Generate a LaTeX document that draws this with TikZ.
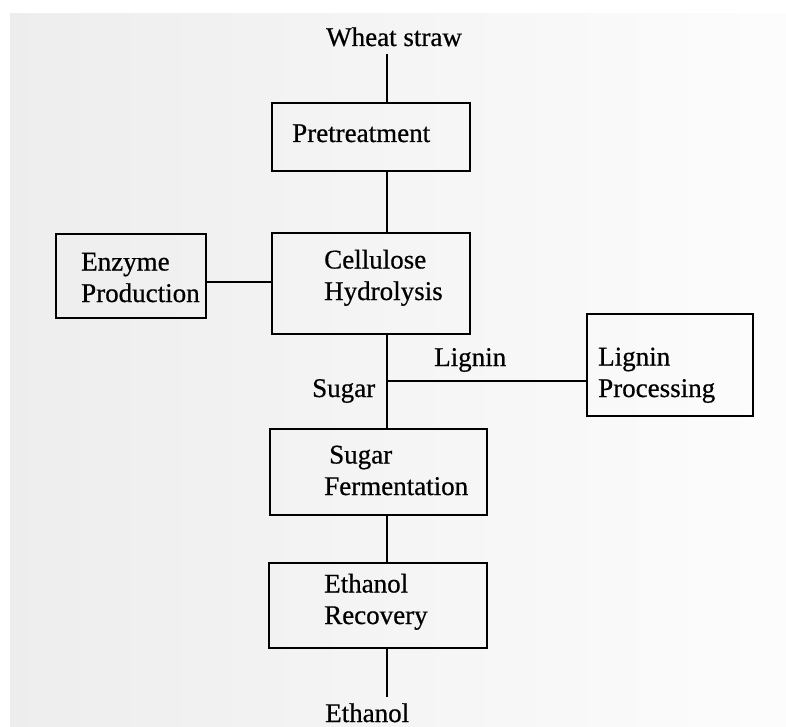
\documentclass[tikz,border=0pt]{standalone}
\usepackage{fontspec}
\setmainfont{Liberation Serif}[BoldFont=Liberation Serif, BoldFeatures={FakeBold=0.6}]
\begin{document}
\begin{tikzpicture}[x=1pt, y=-1pt,
  box/.style={draw, line width=1.5pt, rectangle, outer sep=0pt, inner sep=0pt},
  txt/.style={font=\fontsize{27}{31.5}\selectfont\bfseries, inner sep=0pt, anchor=base west, align=left},
  link/.style={line width=1.5pt}]
  % page and scanned sheet
  \useasboundingbox (0,0) rectangle (786,727);
  \fill[white] (0,0) rectangle (786,727);
  \shade[left color=black!7, right color=black!1, draw=none] (10,14) rectangle (786,727);

  % process boxes
  \node[box, minimum width=198pt, minimum height=68pt]  (pre)  at (371,137)   {};
  \node[box, minimum width=198pt, minimum height=101pt] (cell) at (371,283.5) {};
  \node[box, minimum width=150pt, minimum height=84pt]  (enz)  at (131,276)   {};
  \node[box, minimum width=166pt, minimum height=102pt] (lig)  at (670,365)   {};
  \node[box, minimum width=217pt, minimum height=86pt]  (ferm) at (378.5,472) {};
  \node[box, minimum width=218pt, minimum height=85pt]  (rec)  at (378,605.5) {};

  % box labels (anchored at the baseline of the last line)
  \node[txt] (preT)  at (292,142) {Pretreatment};
  \node[txt] (cellT) at (324,300) {Cellulose\\Hydrolysis};
  \node[txt] (enzT)  at (81,302)  {Enzyme\\Production};
  \node[txt] (ligT)  at (598,397) {Lignin\\Processing};
  \node[txt] (fermT) at (324,495) {\hspace*{5pt}Sugar\\Fermentation};
  \node[txt] (recT)  at (324,624) {Ethanol\\Recovery};

  % feed, product and stream labels
  \node[txt] (wheat)   at (326,46)  {Wheat straw};
  \node[txt] (ethanol) at (325,722) {Ethanol};
  \node[txt] (lignin)  at (434,366) {Lignin};
  \node[txt] (sugar)   at (312,397) {Sugar};

  % main process line
  \coordinate (spine) at (387,0);
  \coordinate (feed) at (387,54);
  \coordinate (junc) at (387,381);
  \coordinate (out)  at (387,697);
  \draw[link] (feed) -- (pre.north -| spine);
  \draw[link] (pre.south -| spine) -- (cell.north -| spine);
  \draw[link] (cell.south -| spine) -- (ferm.north -| spine);
  \draw[link] (ferm.south -| spine) -- (rec.north -| spine);
  \draw[link] (rec.south -| spine) -- (out);

  % side streams
  \draw[link] ([yshift=-6pt]enz.east) -- ([yshift=-6pt]enz.east -| cell.west);
  \draw[link] (junc) -- (junc -| lig.west);
\end{tikzpicture}
\end{document}
